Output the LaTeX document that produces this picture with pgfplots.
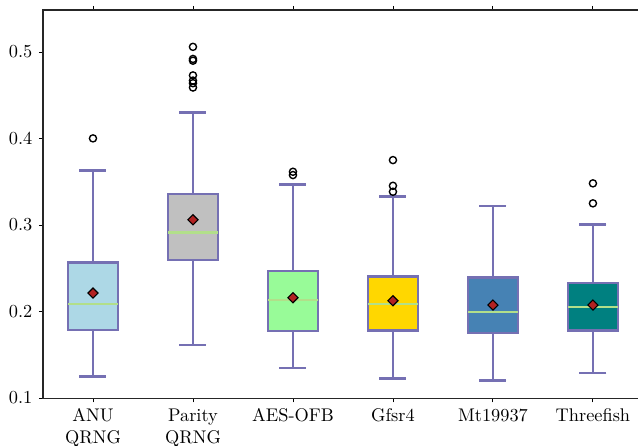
\documentclass[border=0pt]{standalone}
\usepackage{pgfplots}
\pgfplotsset{compat=1.18}
\usepgfplotslibrary{statistics}
\definecolor{edgec}{RGB}{117,112,179}
\definecolor{medc}{RGB}{178,223,138}
\definecolor{meanc}{RGB}{178,34,34}
\definecolor{c1}{RGB}{173,216,230}
\definecolor{c2}{RGB}{192,192,192}
\definecolor{c3}{RGB}{152,251,152}
\definecolor{c4}{RGB}{255,215,0}
\definecolor{c5}{RGB}{70,130,180}
\definecolor{c6}{RGB}{0,128,128}
\pgfplotsset{boxst/.style={solid, draw=edgec, line width=1.35pt, mark=o, mark size=1.95pt, mark options={draw=black, fill=none, line width=0.75pt, solid}}}
\begin{document}
\begin{tikzpicture}
\useasboundingbox (-23.45pt,-25.64pt) rectangle (324.6pt,217.16pt);
\begin{axis}[
  scale only axis,
  width=327.3pt, height=211.7pt,
  xmin=0.5, xmax=6.5, ymin=0.1, ymax=0.5486,
  xtick={1,2,3,4,5,6},
  xticklabels={{ANU\\QRNG},{Parity\\QRNG},{AES-OFB},{Gfsr4},{Mt19937},{Threefish}},
  xticklabel style={align=center, font=\normalsize},
  ytick={0.1,0.2,0.3,0.4,0.5},
  yticklabel style={/pgf/number format/fixed, /pgf/number format/precision=1, /pgf/number format/fixed zerofill},
  tick align=outside, major tick length=2.3pt,
  tick style={black, line width=0.5pt},
  axis line style={line width=0.6pt, black!85},
  clip=false,
  boxplot/draw direction=y,
  boxplot/every median/.style={draw=medc, line width=1.2pt},
  boxplot/box extend=0.5,
  boxplot/whisker extend=0.27,
]
\addplot[boxplot prepared={draw position=1, lower whisker=0.1251, lower quartile=0.1786, median=0.2087, upper quartile=0.2569, upper whisker=0.3632}, boxst, fill=c1] table[row sep=\\, y index=0] {0.4002\\};
\addplot[boxplot prepared={draw position=2, lower whisker=0.1616, lower quartile=0.2599, median=0.2915, upper quartile=0.3358, upper whisker=0.4303}, boxst, fill=c2] table[row sep=\\, y index=0] {0.506\\0.492\\0.490\\0.473\\0.467\\0.464\\0.459\\};
\addplot[boxplot prepared={draw position=3, lower whisker=0.1350, lower quartile=0.1778, median=0.2133, upper quartile=0.2468, upper whisker=0.3470}, boxst, fill=c3] table[row sep=\\, y index=0] {0.3616\\0.3578\\};
\addplot[boxplot prepared={draw position=4, lower whisker=0.1228, lower quartile=0.1783, median=0.2087, upper quartile=0.2407, upper whisker=0.3332}, boxst, fill=c4] table[row sep=\\, y index=0] {0.3751\\0.3454\\0.3385\\};
\addplot[boxplot prepared={draw position=5, lower whisker=0.1205, lower quartile=0.1755, median=0.1998, upper quartile=0.2391, upper whisker=0.3223}, boxst, fill=c5] coordinates {};
\addplot[boxplot prepared={draw position=6, lower whisker=0.1289, lower quartile=0.1783, median=0.2055, upper quartile=0.2333, upper whisker=0.3008}, boxst, fill=c6] table[row sep=\\, y index=0] {0.3482\\0.3251\\};
% means
\addplot[only marks, mark=square*, mark size=1.95pt, mark options={rotate=45, fill=meanc, draw=black, line width=0.6pt}] coordinates {(1,0.2214) (2,0.3061) (3,0.2160) (4,0.2125) (5,0.2075) (6,0.2075)};
% medians on top
\addplot[no marks, draw=medc, line width=1.2pt] coordinates {(0.75,0.2087) (1.25,0.2087)};
\addplot[no marks, draw=medc, line width=1.2pt] coordinates {(1.75,0.2915) (2.25,0.2915)};
\addplot[no marks, draw=medc, line width=1.2pt] coordinates {(2.75,0.2133) (3.25,0.2133)};
\addplot[no marks, draw=medc, line width=1.2pt] coordinates {(3.75,0.2087) (4.25,0.2087)};
\addplot[no marks, draw=medc, line width=1.2pt] coordinates {(4.75,0.1998) (5.25,0.1998)};
\addplot[no marks, draw=medc, line width=1.2pt] coordinates {(5.75,0.2055) (6.25,0.2055)};
\end{axis}
\end{tikzpicture}
\end{document}
